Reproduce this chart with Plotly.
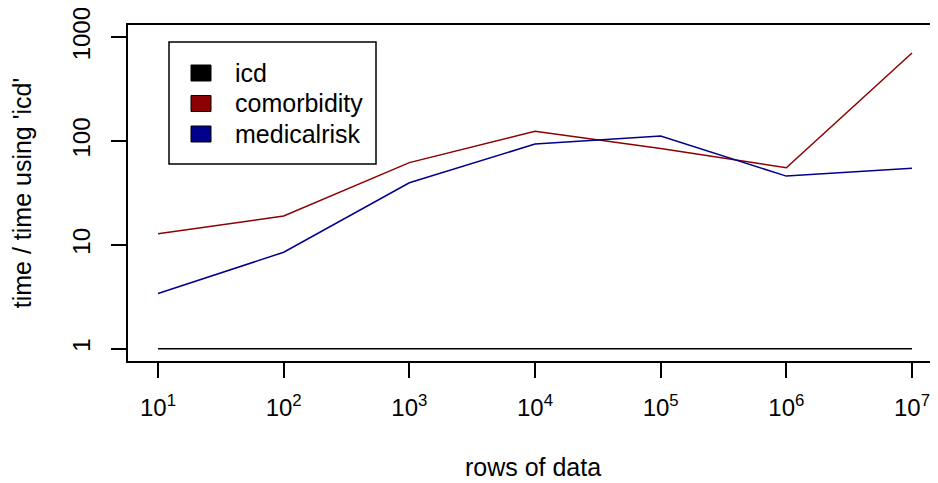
import plotly.graph_objects as go

rows = [1e1, 1e2, 1e3, 1e4, 1e5, 1e6, 1e7]
icd = [1, 1, 1, 1, 1, 1, 1]
comorbidity = [12.8, 19.0, 62, 124, 85, 55.4, 706]
medicalrisk = [3.4, 8.5, 39.7, 93.6, 111.7, 46, 54.6]

series_names = ["icd", "comorbidity", "medicalrisk"]
series_colors = ["#000000", "#8B0000", "#00008B"]

x_tickvals = [10 ** k for k in range(1, 8)]
x_ticktext = [f"10<sup>{k}</sup>" for k in range(1, 8)]
y_tickvals = [1, 10, 100, 1000]
y_ticktext = ["1", "10", "100", "1000"]

# page body has an 8px margin, so the figure is shrunk and shifted to fit
OFF = 8
W, H = 938 - OFF, 483 - OFF
L, R, T, B = 128 - OFF, 0, 25 - OFF, 122
FONT = "Liberation Sans, Arial, Helvetica, sans-serif"


def px_to_paper(x, y):
    x, y = x - OFF, y - OFF
    return (x - L) / (W - L - R), (H - B - y) / (H - T - B)


fig = go.Figure()
for name, vals, col in zip(series_names, [icd, comorbidity, medicalrisk], series_colors):
    fig.add_trace(go.Scatter(
        x=rows, y=vals, mode="lines", name=name,
        line=dict(color=col, width=1.5), showlegend=False
    ))

# legend drawn by hand, R style
x0, y0 = px_to_paper(169, 42)
x1, y1 = px_to_paper(376, 164)
fig.add_shape(type="rect", xref="paper", yref="paper", x0=x0, y0=y0, x1=x1, y1=y1,
              line=dict(color="black", width=1.5), fillcolor="white")
for i, (name, col) in enumerate(zip(series_names, series_colors)):
    cy = 73 + i * 30.5
    bx0, by0 = px_to_paper(191, cy - 8)
    bx1, by1 = px_to_paper(211, cy + 8)
    fig.add_shape(type="rect", xref="paper", yref="paper", x0=bx0, y0=by0, x1=bx1, y1=by1,
                  line=dict(color="black", width=1), fillcolor=col)
    tx, ty = px_to_paper(233, cy)
    fig.add_annotation(xref="paper", yref="paper", x=tx, y=ty, text=name,
                       showarrow=False, xanchor="left", yanchor="middle",
                       font=dict(size=25, color="black", family=FONT))

fig.update_layout(
    width=W, height=H,
    margin=dict(l=L, r=R, t=T, b=B, autoexpand=False),
    plot_bgcolor="white", paper_bgcolor="white",
    font=dict(family=FONT, size=25, color="black"),
)
fig.update_xaxes(
    type="log", range=[0.761, 7.207], automargin=False,
    tickvals=x_tickvals, ticktext=x_ticktext, ticklabeloverflow="allow",
    showgrid=False, zeroline=False,
    showline=True, linecolor="black", linewidth=2, mirror=True,
    ticks="outside", ticklen=15, tickwidth=1.5, tickcolor="black",
    tickfont=dict(size=24), ticklabelstandoff=9,
    title=dict(text="rows of data", standoff=39, font=dict(size=25)),
)
fig.update_yaxes(
    type="log", range=[-0.118, 3.118], automargin=False,
    tickvals=y_tickvals, ticktext=y_ticktext, tickangle=-90,
    ticklabeloverflow="allow",
    showgrid=False, zeroline=False,
    showline=True, linecolor="black", linewidth=2, mirror=False,
    ticks="outside", ticklen=15, tickwidth=1.5, tickcolor="black",
    tickfont=dict(size=24),
    ticklabelstandoff=11,
    title=dict(text="time / time using 'icd'", standoff=31, font=dict(size=25)),
)

fig.write_html("out.html")
